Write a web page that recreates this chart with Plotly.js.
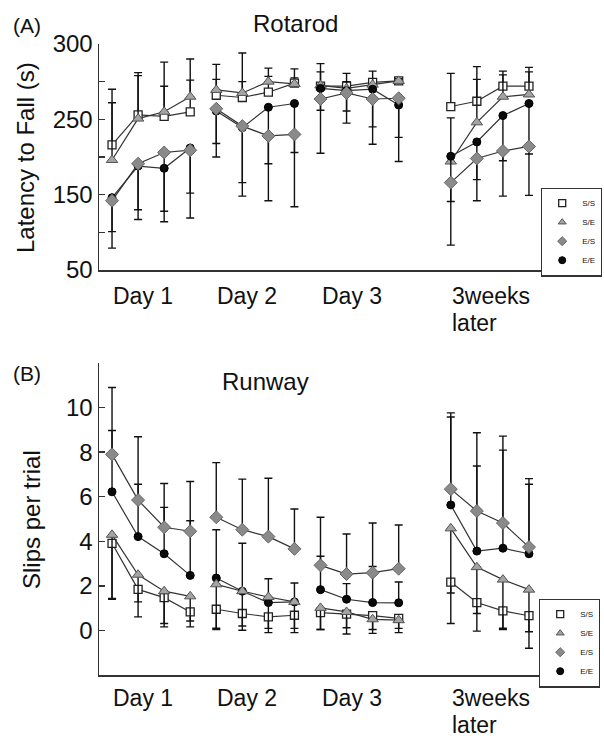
<!DOCTYPE html>
<html><head><meta charset="utf-8">
<script src="https://cdn.plot.ly/plotly-3.0.1.min.js"></script>
<style>html,body{margin:0;padding:0;background:#fff}#chart{width:604px;height:738px}</style>
</head><body><div id="chart"></div>
<script>
// ---------- DATA ----------
const groups = ['S/S', 'S/E', 'E/S', 'E/E'];
const dayLabels = [['Day 1'], ['Day 2'], ['Day 3'], ['3weeks', 'later']];
const sessionsPerDay = 4;

// Rotarod: latency to fall (s), 4 sessions per day (Day1, Day2, Day3, 3 weeks later)
const rotSS = [216, 256, 254, 260, 282, 279, 286, 298, 294, 294, 299, 301, 267, 274, 294, 294];
const rotSE = [196, 251, 260, 280, 289, 285, 300, 297, 295, 291, 296, 301, 194, 246, 280, 283];
const rotES = [142, 191, 206, 209, 264, 241, 228, 230, 277, 285, 277, 278, 166, 198, 208, 214];
const rotEE = [146, 188, 185, 212, 261, 239, 266, 271, 291, 288, 290, 269, 201, 220, 255, 271];
// error bar ends (upper for S/S, S/E; lower for E/S, E/E)
const rotSSTop = [290, 308, 294, 302, 303, 300, 307, 305, 313, 311, 303, 305, 311, 320, 314, 319];
const rotSETop = [272, 312, 326, 330, 323, 338, 318, 317, 324, 300, 314, 304, 252, 303, 309, 313];
const rotESLow = [79, 117, 114, 119, 200, 148, 142, 134, 205, 245, 217, 194, 83, 142, 148, 149];
const rotEELow = [101, 130, 128, 152, 218, 166, 191, 206, 262, 261, 240, 226, 141, 170, 195, 204];

// Runway: slips per trial
const runSS = [3.91, 1.84, 1.47, 0.83, 0.95, 0.76, 0.61, 0.68, 0.80, 0.73, 0.66, 0.54, 2.17, 1.25, 0.88, 0.66];
const runSE = [4.29, 2.50, 1.76, 1.53, 2.07, 1.76, 1.50, 1.28, 1.01, 0.83, 0.50, 0.46, 4.58, 2.84, 2.28, 1.83];
const runES = [7.90, 5.85, 4.63, 4.45, 5.08, 4.52, 4.21, 3.66, 2.92, 2.53, 2.59, 2.77, 6.34, 5.36, 4.82, 3.74];
const runEE = [6.22, 4.21, 3.44, 2.47, 2.35, 1.76, 1.25, 1.28, 1.83, 1.40, 1.25, 1.24, 5.63, 3.56, 3.69, 3.44];
// error bar ends (lower for S/S, S/E; upper for E/S, E/E)
const runSSLow = [1.43, 1.28, 0.31, 0.16, 0.04, 0.01, -0.10, -0.10, 0.04, -0.16, -0.13, -0.10, 1.68, 0.76, 0.04, -0.80];
const runSELow = [1.40, 0.61, 0.16, 0.42, 0.10, 0.20, 0.09, 0.09, 0.04, 0.12, 0.04, 0.09, 0.31, -0.03, 0.10, -0.06];
const runESTop = [10.9, 8.69, 6.59, 6.68, 7.53, 6.79, 6.83, 5.45, 5.08, 4.33, 4.82, 4.73, 9.76, 8.87, 8.72, 6.81];
const runEETop = [8.97, 6.56, 5.52, 4.92, 4.52, 3.91, 2.32, 2.13, 3.33, 2.10, 2.87, 2.17, 9.58, 7.38, 8.09, 6.56];

const rotTickVals = [50, 100, 150, 200, 250, 300, 350];
const rotTickText = ['50', '', '150', '', '250', '', '300'];
const runTickVals = [0, 2, 4, 6, 8, 10, 12];
const runTickText = ['0', '2', '4', '6', '8', '10', ''];

// ---------- LAYOUT HELPERS ----------
const dayStart = [0, 4, 8, 13]; // slot of first session of each day on x axis
const W = 604, H = 738;
const px = v => v / W, py = v => 1 - v / H;

function xs() {
  const out = [];
  dayStart.forEach((s, d) => { for (let k = 0; k < sessionsPerDay; k++) out.push(s + k); if (d < dayStart.length - 1) out.push(null); });
  return out;
}
function split(vals) {
  const out = [];
  dayStart.forEach((s, d) => { for (let k = 0; k < sessionsPerDay; k++) out.push(vals[d * sessionsPerDay + k]); if (d < dayStart.length - 1) out.push(null); });
  return out;
}
function errUp(vals, ends) { return split(vals.map((v, i) => ends[i] - v)); }
function errDown(vals, ends) { return split(vals.map((v, i) => v - ends[i])); }
function zeros(vals) { return split(vals.map(() => 0)); }

const styles = {
  'S/S': {symbol: 'square', size: 8, color: '#ffffff', line: {color: '#222', width: 1.3}},
  'S/E': {symbol: 'triangle-up', size: 10, color: '#a4a4a4', line: {color: '#555', width: 1}},
  'E/S': {symbol: 'diamond', size: 10, color: '#8a8a8a', line: {color: '#666', width: 1}},
  'E/E': {symbol: 'circle', size: 8, color: '#0a0a0a', line: {color: '#000', width: 1}}
};

function trace(name, vals, plus, minus, xa, ya) {
  return {
    type: 'scatter', mode: 'lines+markers', name: name, showlegend: false,
    x: xs(), y: split(vals), xaxis: xa, yaxis: ya, connectgaps: false,
    line: {color: '#333', width: 1.2},
    marker: styles[name],
    error_y: {type: 'data', symmetric: false, array: plus, arrayminus: minus,
      color: '#111', thickness: 1.4, width: 4},
    hoverinfo: 'skip'
  };
}
function legendTrace(name, xa, ya, leg) {
  return {type: 'scatter', mode: 'markers', name: name, x: [null], y: [null],
    xaxis: xa, yaxis: ya, legend: leg, marker: Object.assign({}, styles[name], {size: 7}), hoverinfo: 'skip'};
}

const data = [
  trace('S/S', rotSS, errUp(rotSS, rotSSTop), zeros(rotSS), 'x', 'y'),
  trace('S/E', rotSE, errUp(rotSE, rotSETop), zeros(rotSE), 'x', 'y'),
  trace('E/E', rotEE, zeros(rotEE), errDown(rotEE, rotEELow), 'x', 'y'),
  trace('E/S', rotES, zeros(rotES), errDown(rotES, rotESLow), 'x', 'y'),
  trace('S/S', runSS, zeros(runSS), errDown(runSS, runSSLow), 'x2', 'y2'),
  trace('E/E', runEE, errUp(runEE, runEETop), zeros(runEE), 'x2', 'y2'),
  trace('S/E', runSE, zeros(runSE), errDown(runSE, runSELow), 'x2', 'y2'),
  trace('E/S', runES, errUp(runES, runESTop), zeros(runES), 'x2', 'y2')
];
groups.forEach(g => data.push(legendTrace(g, 'x', 'y', 'legend')));
groups.forEach(g => data.push(legendTrace(g, 'x2', 'y2', 'legend2')));

const font = 'Liberation Sans, Arial, sans-serif';
const xBase = {
  domain: [px(99), px(542)], range: [-0.5, 16.5], showline: true, linecolor: '#333', linewidth: 1.5,
  showgrid: false, zeroline: false, showticklabels: false, ticks: '', fixedrange: true
};
const yBase = {
  showline: true, linecolor: '#333', linewidth: 1.5, showgrid: false, zeroline: false,
  ticks: 'inside', ticklen: 6, tickwidth: 1.3, tickcolor: '#333', tickmode: 'array',
  tickfont: {family: font, size: 24, color: '#111'}, fixedrange: true
};

const annotations = [];
function ann(text, x, y, size, extra) {
  annotations.push(Object.assign({text: text, x: x, y: y, xref: 'paper', yref: 'paper', showarrow: false,
    font: {family: font, size: size, color: '#111'}, xanchor: 'center', yanchor: 'middle'}, extra || {}));
}
ann('Rotarod', px(295), py(24), 24);
ann('Runway', px(265), py(381), 24);
ann('(A)', px(27), py(25), 21);
ann('(B)', px(27), py(373), 21);
ann('Latency to Fall (s)', px(26), py(158), 24, {textangle: -90});
ann('Slips per trial', px(31), py(520), 24, {textangle: -90});
const lineStep = 27; // px between label lines
dayLabels.forEach((lines, d) => {
  lines.forEach((t, j) => {
    [['x', 296], ['x2', 698]].forEach(([xr, yc]) => {
      annotations.push({text: t, x: dayStart[d], xref: xr, y: py(yc + j * lineStep), yref: 'paper',
        xanchor: 'left', yanchor: 'middle', showarrow: false, borderpad: 0,
        font: {family: font, size: 23, color: '#111'}});
    });
  });
});

const legBase = {xanchor: 'right', yanchor: 'middle', bgcolor: '#fff', bordercolor: '#333', borderwidth: 1.2,
  font: {family: font, size: 8, color: '#111'}, tracegroupgap: 0, itemwidth: 30, itemclick: false, itemdoubleclick: false};

const layout = {
  width: W, height: H, margin: {l: 0, r: 0, t: 0, b: 0}, paper_bgcolor: '#fff', plot_bgcolor: '#fff',
  showlegend: true,
  xaxis: Object.assign({}, xBase, {anchor: 'y'}),
  yaxis: Object.assign({}, yBase, {domain: [py(270), py(44)], range: [50, 350], tickvals: rotTickVals, ticktext: rotTickText, anchor: 'x'}),
  xaxis2: Object.assign({}, xBase, {anchor: 'y2'}),
  yaxis2: Object.assign({}, yBase, {domain: [py(675), py(363)], range: [-2, 12], tickvals: runTickVals, ticktext: runTickText, anchor: 'x2'}),
  legend: Object.assign({}, legBase, {x: px(602), y: py(232)}),
  legend2: Object.assign({}, legBase, {x: px(600), y: py(643)}),
  annotations: annotations
};

Plotly.newPlot('chart', data, layout, {displayModeBar: false, staticPlot: true});
</script></body></html>
